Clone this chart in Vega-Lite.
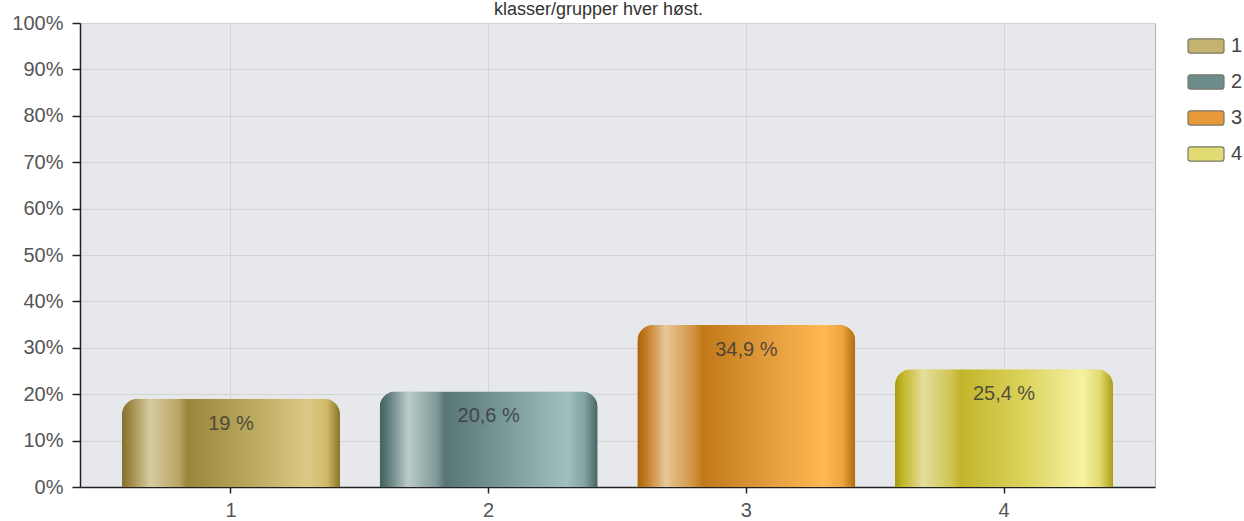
{
  "$schema": "https://vega.github.io/schema/vega-lite/v6.json",
  "width": 1075,
  "height": 464,
  "autosize": {"type": "none"},
  "padding": {"left": 80, "top": 23, "right": 89, "bottom": 34},
  "background": "white",
  "title": {
    "text": "klasser/grupper hver høst.",
    "orient": "top",
    "anchor": "middle",
    "frame": "group",
    "baseline": "alphabetic",
    "offset": 0,
    "dy": 20,
    "dx": -19,
    "font": "Liberation Sans",
    "fontSize": 18,
    "fontWeight": "normal",
    "color": "#333"
  },
  "config": {
    "view": {"fill": "#e6e8eb", "stroke": "#b0b0b0", "strokeWidth": 1},
    "font": "Liberation Sans"
  },
  "data": {
    "values": [
      {"kat": "1", "andel": 0.19, "etikett": "19 %"},
      {"kat": "2", "andel": 0.206, "etikett": "20,6 %"},
      {"kat": "3", "andel": 0.349, "etikett": "34,9 %"},
      {"kat": "4", "andel": 0.254, "etikett": "25,4 %"}
    ]
  },
  "encoding": {
    "x": {
      "field": "kat",
      "type": "nominal",
      "scale": {"paddingInner": 0.154, "paddingOuter": 0.163},
      "axis": {
        "title": null,
        "labelAngle": 0,
        "labelFont": "Liberation Sans",
        "labelFontSize": 20,
        "labelColor": "#555",
        "labelPadding": 7,
        "domainColor": "#222",
        "domainWidth": 1.5,
        "tickColor": "#222",
        "tickSize": 6,
        "tickWidth": 1.5,
        "grid": true,
        "gridColor": "#d4d4d4",
        "bandPosition": 0.5
      }
    },
    "y": {
      "field": "andel",
      "type": "quantitative",
      "scale": {"domain": [0, 1]},
      "axis": {
        "title": null,
        "format": ".0%",
        "values": [0, 0.1, 0.2, 0.3, 0.4, 0.5, 0.6, 0.7, 0.8, 0.9, 1],
        "labelFont": "Liberation Sans",
        "labelFontSize": 20,
        "labelColor": "#555",
        "labelPadding": 9,
        "domainColor": "#222",
        "domainWidth": 1.5,
        "tickColor": "#222",
        "tickSize": 8,
        "tickWidth": 1.5,
        "grid": true,
        "gridColor": "#d4d4d4"
      }
    }
  },
  "layer": [
    {
      "mark": {"type": "bar", "cornerRadiusTopLeft": 16, "cornerRadiusTopRight": 16},
      "encoding": {
        "color": {
          "field": "kat",
          "type": "nominal",
          "scale": {
            "domain": ["1", "2", "3", "4"],
            "range": ["#c4b36e", "#6e8c8b", "#e8993a", "#e2da72"]
          },
          "legend": {
            "title": null,
            "orient": "none",
            "legendX": 1107,
            "legendY": 4,
            "padding": 0,
            "symbolType": "M-0.85,-0.4L0.85,-0.4Q1,-0.4 1,-0.25L1,0.25Q1,0.4 0.85,0.4L-0.85,0.4Q-1,0.4 -1,0.25L-1,-0.25Q-1,-0.4 -0.85,-0.4Z",
            "symbolSize": 1296,
            "symbolStrokeColor": "#7a7a6a",
            "symbolStrokeWidth": 1.2,
            "symbolOpacity": 1,
            "labelFont": "Liberation Sans",
            "labelFontSize": 20,
            "labelColor": "#444",
            "labelOffset": 6,
            "rowPadding": 7
          }
        }
      }
    },
    {
      "mark": {"type": "bar", "cornerRadiusTopLeft": 16, "cornerRadiusTopRight": 16},
      "encoding": {
        "color": {
          "condition": [
            {"test": "datum.kat === '1'", "value": {"gradient": "linear", "x1": 0, "y1": 0, "x2": 1, "y2": 0, "stops": [
                {"offset": 0, "color": "#857030"},
                {"offset": 0.04, "color": "#a08a48"},
                {"offset": 0.13, "color": "#d6cba2"},
                {"offset": 0.26, "color": "#b9a664"},
                {"offset": 0.3, "color": "#9b863a"},
                {"offset": 0.6, "color": "#bba95f"},
                {"offset": 0.86, "color": "#ddc985"},
                {"offset": 0.94, "color": "#cfb868"},
                {"offset": 1, "color": "#8a7428"}
              ]}},
            {"test": "datum.kat === '2'", "value": {"gradient": "linear", "x1": 0, "y1": 0, "x2": 1, "y2": 0, "stops": [
                {"offset": 0, "color": "#44605f"},
                {"offset": 0.04, "color": "#5f7c7b"},
                {"offset": 0.13, "color": "#bccbc8"},
                {"offset": 0.26, "color": "#7f9a98"},
                {"offset": 0.3, "color": "#587574"},
                {"offset": 0.6, "color": "#7c9d9c"},
                {"offset": 0.86, "color": "#9fc0be"},
                {"offset": 0.94, "color": "#82a3a2"},
                {"offset": 1, "color": "#476463"}
              ]}},
            {"test": "datum.kat === '3'", "value": {"gradient": "linear", "x1": 0, "y1": 0, "x2": 1, "y2": 0, "stops": [
                {"offset": 0, "color": "#a86408"},
                {"offset": 0.04, "color": "#c27a22"},
                {"offset": 0.13, "color": "#e8c898"},
                {"offset": 0.26, "color": "#d0913e"},
                {"offset": 0.3, "color": "#c07818"},
                {"offset": 0.6, "color": "#e39c3c"},
                {"offset": 0.86, "color": "#ffb852"},
                {"offset": 0.94, "color": "#eea440"},
                {"offset": 1, "color": "#b06c0c"}
              ]}}
          ],
          "value": {"gradient": "linear", "x1": 0, "y1": 0, "x2": 1, "y2": 0, "stops": [
                {"offset": 0, "color": "#a89a10"},
                {"offset": 0.04, "color": "#c4b82c"},
                {"offset": 0.13, "color": "#e4de9e"},
                {"offset": 0.26, "color": "#cfc450"},
                {"offset": 0.3, "color": "#c2b52a"},
                {"offset": 0.6, "color": "#dcd35e"},
                {"offset": 0.86, "color": "#f6f2a2"},
                {"offset": 0.94, "color": "#e2d970"},
                {"offset": 1, "color": "#ac9e16"}
              ]}
        }
      }
    },
    {
      "mark": {"type": "text", "baseline": "middle", "align": "center", "dy": 25, "font": "Liberation Sans", "fontSize": 20, "color": "#3a3a3a", "opacity": 0.85},
      "encoding": {
        "text": {"field": "etikett", "type": "nominal"}
      }
    }
  ]
}
